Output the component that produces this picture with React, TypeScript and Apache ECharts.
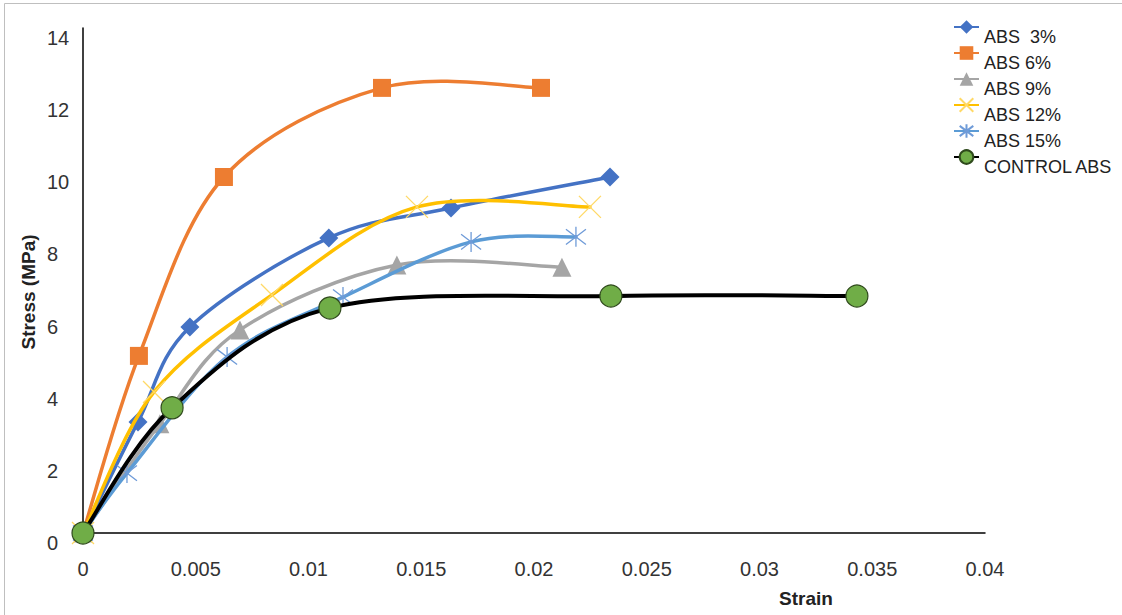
import React, { useEffect, useRef } from "react";
import * as echarts from "echarts";

// Strain / stress readings for each specimen group
const seriesNames = ["ABS  3%", "ABS 6%", "ABS 9%", "ABS 12%", "ABS 15%", "CONTROL ABS"];

const strainAbs3 = [0, 0.00244, 0.00474, 0.0109, 0.01632, 0.02337];
const stressAbs3 = [0, 3.08, 5.71, 8.18, 9.01, 9.87];

const strainAbs6 = [0, 0.00248, 0.00625, 0.01326, 0.02031];
const stressAbs6 = [0, 4.91, 9.87, 12.34, 12.34];

const strainAbs9 = [0, 0.00341, 0.00696, 0.01392, 0.02124];
const stressAbs9 = [0, 3.03, 5.63, 7.43, 7.37];

const strainAbs12 = [0, 0.00315, 0.00838, 0.01481, 0.02248];
const stressAbs12 = [0, 3.91, 6.6, 9.04, 9.04];

const strainAbs15 = [0, 0.00195, 0.00639, 0.01153, 0.01721, 0.02186];
const stressAbs15 = [0, 1.66, 4.88, 6.54, 8.07, 8.21];

const strainControl = [0, 0.00395, 0.01095, 0.02341, 0.03432];
const stressControl = [0, 3.47, 6.24, 6.57, 6.57];

const xTicks = { min: 0, max: 0.04, interval: 0.005 };
const yTicks = { min: 0, max: 14, interval: 2 };

const FONT = "'Liberation Sans', Arial, sans-serif";

const pairs = (xs: number[], ys: number[]) => xs.map((x, i) => [x, ys[i]]);

const CROSS = "path://M0 0L10 10M10 0L0 10";
const STAR = "path://M5 0L5 10M1.2 1.2L8.8 8.8M8.8 1.2L1.2 8.8";

// Cubic Bezier spline through pixel points (tangent = (next - prev) / 6),
// the same kind of smoothing a spreadsheet's "smoothed line" uses.
function splinePath(pts: number[][]): string {
  const n = pts.length;
  if (n === 0) return "";
  let d = `M${pts[0][0]} ${pts[0][1]}`;
  for (let i = 0; i < n - 1; i++) {
    const p0 = pts[Math.max(0, i - 1)];
    const p1 = pts[i];
    const p2 = pts[i + 1];
    const p3 = pts[Math.min(n - 1, i + 2)];
    const c1x = p1[0] + (p2[0] - p0[0]) / 6;
    const c1y = p1[1] + (p2[1] - p0[1]) / 6;
    const c2x = p2[0] - (p3[0] - p1[0]) / 6;
    const c2y = p2[1] - (p3[1] - p1[1]) / 6;
    d += ` C${c1x} ${c1y} ${c2x} ${c2y} ${p2[0]} ${p2[1]}`;
  }
  return d;
}

export default function App() {
  const ref = useRef<HTMLDivElement>(null);

  useEffect(() => {
    if (!ref.current) return;
    const chart = echarts.init(ref.current, undefined, { renderer: "svg" });

    const groups = [
      { name: seriesNames[0], xs: strainAbs3, ys: stressAbs3, color: "#4472C4", width: 3.5,
        symbol: "diamond", size: 19, item: { color: "#4472C4" } },
      { name: seriesNames[1], xs: strainAbs6, ys: stressAbs6, color: "#ED7D31", width: 3.5,
        symbol: "rect", size: 18, item: { color: "#ED7D31" } },
      { name: seriesNames[2], xs: strainAbs9, ys: stressAbs9, color: "#A5A5A5", width: 3.5,
        symbol: "triangle", size: 19, item: { color: "#A5A5A5" } },
      { name: seriesNames[3], xs: strainAbs12, ys: stressAbs12, color: "#FFC000", width: 3.5,
        symbol: CROSS, size: 22,
        item: { color: "rgba(0,0,0,0)", borderColor: "#FFD966", borderWidth: 1.3 } },
      { name: seriesNames[4], xs: strainAbs15, ys: stressAbs15, color: "#5B9BD5", width: 3.5,
        symbol: STAR, size: 20,
        item: { color: "rgba(0,0,0,0)", borderColor: "#6F9BD8", borderWidth: 1.3 } },
      { name: seriesNames[5], xs: strainControl, ys: stressControl, color: "#000000", width: 4,
        symbol: "circle", size: 22,
        item: { color: "#70AD47", borderColor: "#2F4A1C", borderWidth: 1.2 } },
    ];

    const series: any[] = [];
    groups.forEach((g, gi) => {
      const data = pairs(g.xs, g.ys);
      // smoothed curve
      series.push({
        id: `curve-${gi}`,
        type: "custom",
        coordinateSystem: "cartesian2d",
        data,
        encode: { x: 0, y: 1 },
        z: 2 + gi * 2,
        silent: true,
        renderItem: (params: any, api: any) => {
          if (params.dataIndex !== 0) return null;
          const pts = data.map((_, i) => api.coord([api.value(0, i), api.value(1, i)]));
          return {
            type: "path",
            shape: { pathData: splinePath(pts) },
            style: {
              fill: "none",
              stroke: g.color,
              lineWidth: g.width,
              lineJoin: "round",
              lineCap: "round",
            },
          };
        },
      });
      // markers (and legend entry)
      series.push({
        name: g.name,
        type: "line",
        data,
        z: 3 + gi * 2,
        symbol: g.symbol,
        symbolSize: g.size,
        color: g.color,
        lineStyle: { color: g.color, width: g.width, opacity: 0 },
        itemStyle: g.item,
        emphasis: { disabled: true },
        silent: true,
      });
    });

    chart.setOption({
      animation: false,
      backgroundColor: "#ffffff",
      grid: { left: 83, right: 137, top: 28, bottom: 82, containLabel: false },
      xAxis: {
        type: "value",
        min: xTicks.min,
        max: xTicks.max,
        interval: xTicks.interval,
        axisLine: { show: true, onZero: false, lineStyle: { color: "#000", width: 1.5 } },
        axisTick: { show: false },
        splitLine: { show: false },
        axisLabel: {
          margin: 26,
          fontFamily: FONT,
          fontSize: 20,
          color: "#333",
          formatter: (v: number) => String(parseFloat(v.toFixed(3))),
        },
      },
      yAxis: {
        type: "value",
        min: yTicks.min,
        max: yTicks.max,
        interval: yTicks.interval,
        axisLine: { show: true, onZero: false, lineStyle: { color: "#000", width: 1.5 } },
        axisTick: { show: false },
        splitLine: { show: false },
        axisLabel: {
          margin: 36,
          align: "left",
          fontFamily: FONT,
          fontSize: 20,
          lineHeight: 20,
          color: "#333",
          formatter: (v: number) => `\n${v}`,
        },
      },
      legend: {
        orient: "vertical",
        left: 953,
        top: 8,
        padding: 0,
        itemWidth: 25,
        itemHeight: 17,
        itemGap: -12,
        selectedMode: false,
        lineStyle: { opacity: 1 },
        textStyle: {
          fontFamily: FONT,
          fontSize: 18,
          color: "#222",
          lineHeight: 19,
        },
        formatter: (name: string) => `\n${name}`,
        data: seriesNames,
      },
      graphic: [
        {
          type: "rect",
          shape: { x: 4.5, y: 3.5, width: 1130, height: 640 },
          style: { fill: "none", stroke: "#BFBFBF", lineWidth: 1 },
          silent: true,
        },
        {
          type: "text",
          x: 806,
          y: 598,
          style: {
            text: "Strain",
            font: `bold 19px ${FONT}`,
            fill: "#222",
            align: "center",
            verticalAlign: "middle",
          },
        },
        {
          type: "text",
          x: 28,
          y: 292,
          rotation: Math.PI / 2,
          style: {
            text: "Stress (MPa)",
            font: `bold 19px ${FONT}`,
            fill: "#222",
            align: "center",
            verticalAlign: "middle",
          },
        },
      ],
      series,
    });

    return () => chart.dispose();
  }, []);

  return (
    <div
      ref={ref}
      style={{ position: "fixed", left: 0, top: 0, width: 1122, height: 615, background: "#fff" }}
    />
  );
}
